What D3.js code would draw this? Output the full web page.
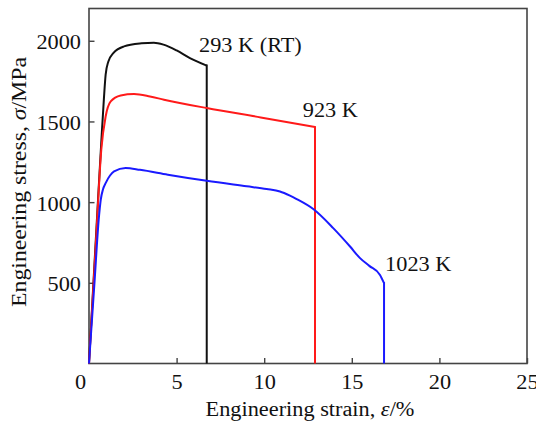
<!DOCTYPE html>
<html>
<head>
<meta charset="utf-8">
<script src="https://cdn.jsdelivr.net/npm/d3@7"></script>
<style>
  body { margin: 0; background: #fff; }
  text { font-family: "Liberation Serif", "Times New Roman", serif; fill: #111; }
</style>
</head>
<body>
<script>
// curves (strain in %, stress in MPa)
var strainRT = [0, 0.4, 0.7, 0.85, 0.95, 1.1, 1.4, 2.0, 3.0, 3.7, 4.25, 5.0, 5.76, 6.72];
var stressRT = [0, 790, 1370, 1640, 1790, 1870, 1925, 1965, 1984, 1988, 1976, 1940, 1893, 1846];

var strain923 = [0, 0.4, 0.7, 0.95, 1.24, 1.81, 2.57, 3.48, 4.28, 6.72, 9.8, 12.9];
var stress923 = [0, 760, 1324, 1531, 1624, 1661, 1670, 1655, 1635, 1583, 1525, 1465];

var strain1023 = [0, 0.3, 0.57, 0.67, 0.8, 0.95, 1.2, 1.43, 2.09, 2.91, 4.5, 6.72, 9.0, 10.14, 10.9, 11.47, 11.85, 12.8, 13.94, 14.9, 15.47, 16.0, 16.61, 16.84];
var stress1023 = [0, 480, 911, 1014, 1080, 1118, 1165, 1190, 1211, 1200, 1170, 1132, 1098, 1081, 1066, 1040, 1019, 957, 839, 725, 653, 605, 549, 498];

var seriesNames = ["293 K (RT)", "923 K", "1023 K"];
var seriesColors = ["#111111", "#ff1a1a", "#1a1aff"];
// where each label sits, in data units
var labelStrain = [6.28, 12.2, 16.9];
var labelStress = [1932, 1529, 576];

var xTickValues = [5, 10, 15, 20, 25];
var yTickValues = [500, 1000, 1500, 2000];

var W = 536, H = 421;
var fontSize = 20;
var serif = "'Liberation Serif', 'Times New Roman', serif";
var stretch = 1.115; // the source text is a bit wider than plain Times

var svg = d3.select("body").append("svg")
    .attr("width", W)
    .attr("height", H);

var x = d3.scaleLinear().domain([0, 25]).range([89, 527]);
var y = d3.scaleLinear().domain([0, 2200]).range([363.5, 8.5]);

// plot frame
svg.append("rect")
    .attr("x", x(0))
    .attr("y", y(2200))
    .attr("width", x(25) - x(0))
    .attr("height", y(0) - y(2200))
    .attr("fill", "none")
    .attr("stroke", "#444")
    .attr("stroke-width", 1.6);

// axes, ticks pointing in
var xAxis = svg.append("g")
    .attr("transform", "translate(0," + y(0) + ")")
    .call(d3.axisBottom(x).tickValues(xTickValues).tickFormat(d3.format("d"))
        .tickSizeInner(-5.5).tickSizeOuter(0).tickPadding(11));

var yAxis = svg.append("g")
    .attr("transform", "translate(" + x(0) + ",0)")
    .call(d3.axisLeft(y).tickValues(yTickValues).tickFormat(d3.format("d"))
        .tickSizeInner(-5.5).tickSizeOuter(0).tickPadding(8));

[xAxis, yAxis].forEach(function(g) {
    g.attr("font-family", serif).attr("font-size", fontSize);
    g.select(".domain").remove();
    g.selectAll(".tick line").attr("stroke", "#444").attr("stroke-width", 1.4);
    g.selectAll(".tick text").attr("fill", "#111");
});
yAxis.selectAll(".tick text").attr("dy", "0.4em");

// shared zero at the corner
svg.append("text")
    .attr("x", x(0) - 8.5)
    .attr("y", 388.5)
    .attr("text-anchor", "middle")
    .style("font-size", fontSize + "px")
    .text("0");

// curves
var line = d3.line()
    .x(function(d) { return x(d[0]); })
    .y(function(d) { return y(d[1]); })
    .curve(d3.curveMonotoneX);

var series = [
    d3.zip(strainRT, stressRT),
    d3.zip(strain923, stress923),
    d3.zip(strain1023, stress1023)
];

series.forEach(function(pts, i) {
    var last = pts[pts.length - 1];
    svg.append("path")
        .attr("d", line(pts))
        .attr("fill", "none")
        .attr("stroke", seriesColors[i])
        .attr("stroke-width", 2);
    // fracture drop
    svg.append("line")
        .attr("x1", x(last[0])).attr("x2", x(last[0]))
        .attr("y1", y(last[1]) - 1).attr("y2", y(0))
        .attr("stroke", seriesColors[i])
        .attr("stroke-width", 2);
});

// series labels
svg.selectAll(".lab")
    .data(seriesNames)
    .enter()
    .append("text")
    .attr("class", "lab")
    .attr("x", function(d, i) { return x(labelStrain[i]); })
    .attr("y", function(d, i) { return y(labelStress[i]); })
    .style("font-size", fontSize + "px")
    .text(function(d) { return d; });

// axis titles
var xt = svg.append("text")
    .attr("x", x(12.5) + 2)
    .attr("y", 415.5)
    .attr("text-anchor", "middle")
    .style("font-size", fontSize + "px");
xt.append("tspan").text("Engineering strain, ");
xt.append("tspan").style("font-style", "italic").text("ε");
xt.append("tspan").text("/%");

var yt = svg.append("text")
    .attr("class", "rot")
    .attr("transform", "translate(26," + 182 + ") rotate(-90)")
    .attr("text-anchor", "middle")
    .style("font-size", fontSize + "px");
yt.append("tspan").text("Engineering stress, ");
yt.append("tspan").style("font-style", "italic").text("σ");
yt.append("tspan").text("/MPa");

// widen the horizontal text a little
svg.selectAll("text").each(function() {
    if (d3.select(this).classed("rot")) return;
    var len = this.getComputedTextLength();
    d3.select(this)
        .attr("textLength", len * stretch)
        .attr("lengthAdjust", "spacingAndGlyphs");
});
yt.attr("textLength", 250).attr("lengthAdjust", "spacingAndGlyphs");
</script>
</body>
</html>
